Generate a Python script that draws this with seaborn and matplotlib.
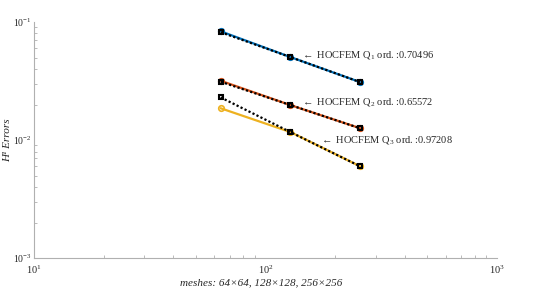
import matplotlib
matplotlib.use("Agg")
import matplotlib.pyplot as plt
import seaborn as sns

# mesh sizes
meshes = [64, 128, 256]

# H1 errors per element order
err_q1 = [0.0835, 0.0505, 0.0310]
err_q2 = [0.0318, 0.0198, 0.0126]
err_q3 = [0.0186, 0.0117, 0.0060]

# reference (black dotted) series
ref_q1 = [0.0820, 0.0505, 0.0310]
ref_q2 = [0.0312, 0.0198, 0.0126]
ref_q3 = [0.0230, 0.0117, 0.0060]

orders = ["0.70496", "0.65572", "0.97208"]

sns.set_style("white")
plt.rcParams["font.family"] = ["Liberation Serif", "DejaVu Serif"]
plt.rcParams["mathtext.fontset"] = "custom"
plt.rcParams["mathtext.rm"] = "Liberation Serif"
plt.rcParams["mathtext.it"] = "Liberation Serif:italic"

fig = plt.figure(figsize=(5.54, 2.90), dpi=100)
ax = fig.add_axes([0.0615, 0.110, 0.8355, 0.814])

colors = ["#0072BD", "#D95319", "#EDB120"]
errs = [err_q1, err_q2, err_q3]
refs = [ref_q1, ref_q2, ref_q3]

for c, e, r in zip(colors, errs, refs):
    sns.lineplot(x=meshes, y=e, ax=ax, color=c, lw=1.6, marker="o", ms=4,
                 markerfacecolor="none", markeredgecolor=c, markeredgewidth=1.2)
    sns.lineplot(x=meshes, y=r, ax=ax, color="black", lw=1.6, ls=(0, (1, 1)),
                 marker="s", ms=3.5, markerfacecolor="none", markeredgecolor="black",
                 markeredgewidth=1.5)

ax.set_xscale("log")
ax.set_yscale("log")
ax.set_xlim(10, 1000)
ax.set_ylim(1e-3, 1e-1)

# annotations
ann_pos = [(143, 0.0525), (143, 0.0210), (172, 0.0100)]
for i, ((x, y), o) in enumerate(zip(ann_pos, orders)):
    ax.text(x, y, r"$\leftarrow$ HOCFEM Q$_{\mathrm{%d}}$ ord. :%s" % (i + 1, o),
            fontsize=7.5, va="center", ha="left")

for s in ["top", "right"]:
    ax.spines[s].set_visible(False)
for s in ["left", "bottom"]:
    ax.spines[s].set_color("#b0b0b0")
    ax.spines[s].set_linewidth(0.8)

ax.tick_params(which="both", direction="in", color="#b0b0b0", labelsize=7.5)
ax.tick_params(axis="y", labelsize=7, pad=2)
ax.tick_params(axis="x", pad=4)
ax.tick_params(which="major", length=4)
ax.tick_params(which="minor", length=2, left=True, bottom=True)
ax.minorticks_on()
ax.set_xticks([10, 100, 1000])
ax.set_xticklabels([r"$\mathit{10^{1}}$", r"$\mathit{10^{2}}$", r"$\mathit{10^{3}}$"])
ax.set_yticks([1e-3, 1e-2, 1e-1])
ax.set_yticklabels([r"$\mathit{10^{-3}}$", r"$\mathit{10^{-2}}$", r"$\mathit{10^{-1}}$"])

ax.set_xlabel("meshes: 64×64, 128×128, 256×256", fontsize=8, style="italic")
ax.set_ylabel("H¹ Errors", fontsize=8, style="italic")
ax.xaxis.set_label_coords(0.49, -0.085)
ax.yaxis.set_label_coords(-0.047, 0.5)

fig.savefig("out.png", dpi=100)
